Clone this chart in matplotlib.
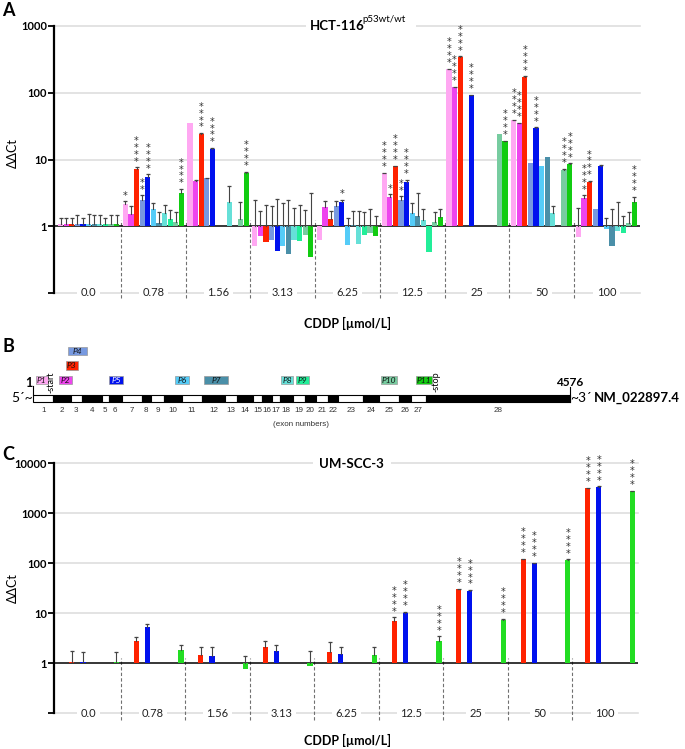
import numpy as np
import matplotlib
matplotlib.use('Agg')
import matplotlib.pyplot as plt
from matplotlib.patches import Rectangle

plt.rcParams['font.family'] = ['Lato', 'Liberation Sans', 'DejaVu Sans']

nan = np.nan
conc_labels = ['0.0', '0.78', '1.56', '3.13', '6.25', '12.5', '25', '50', '100']
probe_names = ['P1', 'P2', 'P3', 'P4', 'P5', 'P6', 'P7', 'P8', 'P9', 'P10', 'P11']
probe_colors = ['#ffa8f2', '#ee44ee', '#ff2200', '#7799e0', '#0011ee', '#55ccf8',
                '#4a8fa8', '#66e0d8', '#22ee99', '#77cca0', '#11cc11']

# HCT-116 p53wt/wt, ddCt per probe over the CDDP concentrations
hct_p1 = [1.08, 2.16, 35, 0.5, 0.63, 6.17, 224, 39, 0.69]
hct_p2 = [1.08, 1.53, 4.84, 0.72, 1.93, 2.75, 120, 34.7, 2.66]
hct_p3 = [1.08, 7.2, 24.3, 0.59, 1.29, 7.94, 347, 174, 4.62]
hct_p4 = [1.08, 2.45, 5.25, 0.63, 2.0, 2.5, nan, 9.0, 1.84]
hct_p5 = [1.08, 5.56, 14.5, 0.43, 2.34, 4.62, 92, 29.9, 8.0]
hct_p6 = [1.08, 1.8, nan, 0.5, 0.52, 1.57, nan, 8.1, 0.91]
hct_p7 = [1.08, 1.12, nan, 0.39, 1.05, 1.41, nan, 11, 0.5]
hct_p8 = [1.08, 1.6, 2.32, 0.62, 0.54, 1.23, nan, 1.6, 0.84]
hct_p9 = [1.08, 1.27, nan, 0.6, 0.73, 0.41, nan, nan, 0.79]
hct_p10 = [1.08, 1.15, 1.27, 0.74, 0.8, 1.17, 24, 7.0, 1.1]
hct_p11 = [1.08, 3.2, 6.24, 0.35, 0.72, 1.36, 18.8, 8.6, 2.32]

# upper end of error bars
hct_p1_err = [1.35, 2.37, nan, 2.5, nan, 6.3, 228, 39.6, 1.9]
hct_p2_err = [1.35, 2.0, 4.92, 1.7, 2.37, 3.0, 122, 35.3, 2.9]
hct_p3_err = [1.35, 7.6, 24.8, 2.1, 1.7, 8.1, 352, 177, 4.75]
hct_p4_err = [1.46, 2.9, 5.3, 2.0, 2.4, 2.8, nan, nan, nan]
hct_p5_err = [1.35, 6.0, 14.8, 2.6, 2.5, 5.0, 93.5, 30.3, 8.2]
hct_p6_err = [1.55, 2.25, nan, 2.2, 1.35, 2.2, nan, nan, 1.35]
hct_p7_err = [1.46, 1.65, nan, 2.5, 1.7, 3.2, nan, nan, 1.84]
hct_p8_err = [1.46, 2.05, 4.0, 1.9, 1.7, 1.84, nan, 2.04, 2.3]
hct_p9_err = [1.35, 1.78, nan, 2.1, 1.66, nan, nan, nan, 1.4]
hct_p10_err = [1.46, 1.62, 2.29, 1.75, 1.8, 1.66, nan, 7.3, 1.66]
hct_p11_err = [1.46, 3.6, 6.6, 3.1, 1.4, 1.8, 19.2, 8.8, 2.75]

# number of significance stars
hct_p1_sig = [0, 1, 0, 0, 0, 4, 4, 4, 0]
hct_p2_sig = [0, 0, 0, 0, 0, 1, 4, 4, 4]
hct_p3_sig = [0, 4, 4, 0, 0, 4, 4, 4, 4]
hct_p4_sig = [0, 2, 0, 0, 0, 2, 0, 0, 0]
hct_p5_sig = [0, 4, 4, 0, 1, 4, 4, 4, 0]
hct_p6_sig = [0] * 9
hct_p7_sig = [0] * 9
hct_p8_sig = [0] * 9
hct_p9_sig = [0] * 9
hct_p10_sig = [0, 0, 0, 0, 0, 0, 0, 4, 0]
hct_p11_sig = [0, 4, 4, 0, 0, 0, 4, 4, 4]

# UM-SCC-3, only P3, P5 and P11
um_p3 = [1.08, 2.75, 1.45, 2.15, 1.68, 7.14, 30.2, 122, 3210]
um_p5 = [1.08, 5.25, 1.38, 1.76, 1.56, 10.2, 28.4, 100, 3415]
um_p11 = [1.08, 1.85, 0.76, 0.88, 1.47, 2.75, 7.24, 118, 2798]
um_p3_err = [1.76, 3.4, 2.15, 2.75, 2.63, 8.3, 31, 124, 3260]
um_p5_err = [1.71, 6.0, 2.15, 2.36, 2.09, 10.6, 29, 101.5, 3460]
um_p11_err = [1.68, 2.36, 1.42, 1.74, 2.09, 3.46, 7.8, 120, 2840]
um_sig = [0, 0, 0, 0, 0, 4, 4, 4, 4]

# transcript NM_022897.4, exon borders (nt)
exon_edges = [1, 171, 322, 414, 584, 646, 755, 925, 1002, 1118, 1266, 1437, 1636,
              1735, 1877, 1953, 2038, 2104, 2212, 2317, 2408, 2511, 2601, 2814,
              2951, 3119, 3221, 3346, 4576]
start_nt = 152
stop_nt = 3432
probe_start = [24, 223, 280, 299, 649, 1209, 1456, 2113, 2238, 2963, 3263]
probe_end = [124, 328, 380, 456, 763, 1331, 1663, 2213, 2354, 3099, 3402]
probe_row = [0, 0, 1, 2, 0, 0, 0, 0, 0, 0, 0]

W, H = 685, 749
PITCH = 0.0866
BARW = 0.08


def fx(px):
    return px / W


def fy(py):
    return 1 - py / H


def bar_x(g, k):
    return g + 0.024 + PITCH * (k + 0.5)


def draw_stars(ax, x, top, n):
    ax.annotate('\n'.join(['*'] * n), (x, top), xytext=(0, 0.5), textcoords='offset points',
                ha='center', va='bottom', fontsize=7, color='#333333', linespacing=0.62,
                family='DejaVu Sans', annotation_clip=False)


def setup_axes(ax, ymax):
    ax.set_yscale('log')
    ax.set_ylim(0.1, ymax)
    ax.set_xlim(-0.035, 9.02)
    for s in ['top', 'right', 'bottom']:
        ax.spines[s].set_visible(False)
    ax.spines['left'].set_linewidth(1.6)
    decades = [10.0 ** e for e in range(-1, int(np.log10(ymax)) + 1)]
    ax.set_yticks(decades)
    ax.set_yticklabels([''] + ['%d' % d for d in decades[1:]], fontweight='bold', fontsize=8)
    ax.minorticks_off()
    ax.tick_params(axis='y', direction='out', length=4, width=1.3, pad=1)
    ax.set_xticks([])
    for d in decades[2:]:
        ax.axhline(d, color='#dedede', lw=1.2, zorder=0, clip_on=False)
    ax.axhline(0.1, color='#dedede', lw=1.2, zorder=0, clip_on=False)
    ax.axhline(1, color='black', lw=1.1, zorder=1.5)
    for g, lab in enumerate(conc_labels):
        ax.text(g + 0.5, 0.1, lab, ha='center', va='center', fontsize=8, color='#222222',
                bbox=dict(facecolor='white', edgecolor='none', pad=2.5), zorder=5)


def draw_bars(ax, vals, errs, sigs, k, color):
    for g in range(len(conc_labels)):
        v = vals[g]
        if np.isnan(v):
            continue
        x = bar_x(g, k)
        ax.bar(x, v - 1, bottom=1, width=BARW, color=color, zorder=2, linewidth=0)
        base = max(v, 1)
        top = base
        if not np.isnan(errs[g]):
            top = errs[g]
            # upper error only, cap at the top end
            ax.plot([x, x], [base, top], color='#444444', lw=0.8, zorder=3)
            ax.plot([x], [top], marker='_', ms=3.4, mew=0.9, color='#444444', zorder=3)
        if sigs[g]:
            draw_stars(ax, x, top, sigs[g])


def separators(ax, y0, y1):
    ax.vlines(np.arange(1, 9), y0, y1, colors='#707070', lw=0.8,
              linestyles=(0, (3, 2)), clip_on=False, zorder=1)


fig = plt.figure(figsize=(W / 100, H / 100), dpi=100)

# ---------- panel A ----------
axA = fig.add_axes([fx(54), fy(293), fx(640 - 54), (293 - 26) / H])
setup_axes(axA, 1000)
hct_vals = [hct_p1, hct_p2, hct_p3, hct_p4, hct_p5, hct_p6, hct_p7, hct_p8, hct_p9, hct_p10, hct_p11]
hct_errs = [hct_p1_err, hct_p2_err, hct_p3_err, hct_p4_err, hct_p5_err, hct_p6_err,
            hct_p7_err, hct_p8_err, hct_p9_err, hct_p10_err, hct_p11_err]
hct_sigs = [hct_p1_sig, hct_p2_sig, hct_p3_sig, hct_p4_sig, hct_p5_sig, hct_p6_sig,
            hct_p7_sig, hct_p8_sig, hct_p9_sig, hct_p10_sig, hct_p11_sig]
for k in range(11):
    draw_bars(axA, hct_vals[k], hct_errs[k], hct_sigs[k], k, probe_colors[k])
separators(axA, 0.084, 1.23)

fig.patches.append(Rectangle((fx(306), fy(34)), fx(110), 16 / H, transform=fig.transFigure,
                             facecolor='white', edgecolor='none', zorder=10))
fig.text(fx(310), fy(26), 'HCT-116', fontsize=9.5, fontweight='bold', ha='left', va='center', zorder=11)
fig.text(fx(362), fy(19), 'p53wt/wt', fontsize=7, ha='left', va='center', zorder=11)
fig.text(fx(347), fy(323), 'CDDP [µmol/L]', fontsize=9, fontweight='bold', ha='center', va='center')
fig.text(fx(13), fy(153), 'ΔΔCt', fontsize=9, rotation=90, ha='center', va='center')
fig.text(fx(2), fy(11), 'A', fontsize=13, fontweight='bold', ha='left', va='center')

# ---------- panel B ----------
axB = fig.add_axes([0, fy(435), 1, 100 / H])
axB.set_xlim(0, W)
axB.set_ylim(435, 335)
axB.axis('off')


def nt_px(nt):
    return 33.3 + (nt - 1) * (570 - 33.3) / (4576 - 1)


for i in range(len(exon_edges) - 1):
    x0, x1 = nt_px(exon_edges[i]), nt_px(exon_edges[i + 1])
    axB.add_patch(Rectangle((x0, 395), x1 - x0, 7, facecolor='white' if i % 2 == 0 else 'black',
                            edgecolor='black', lw=0.8))
    axB.text((x0 + x1) / 2, 410.5, str(i + 1), fontsize=5.8, ha='center', va='center',
             color='#333333', family='Liberation Sans')
axB.text(301, 425, '(exon numbers)', fontsize=5.8, ha='center', va='center',
         color='#333333', family='Liberation Sans')

for k in range(11):
    x0, x1 = nt_px(probe_start[k]), nt_px(probe_end[k])
    y0 = 375.7 - probe_row[k] * 14.5
    axB.add_patch(Rectangle((x0, y0), x1 - x0, 8.7, facecolor=probe_colors[k],
                            edgecolor='#999999', lw=0.5))
    axB.text((x0 + x1) / 2, y0 + 4.6, probe_names[k], fontsize=6, style='italic',
             ha='center', va='center', color='white' if k == 4 else '#111111')

axB.plot([nt_px(1)] * 2, [386, 395], color='black', lw=0.8)
axB.plot([nt_px(4576)] * 2, [387, 402], color='black', lw=0.8)
axB.text(nt_px(1) - 0.5, 383, '1', fontsize=9, fontweight='bold', ha='right', va='center')
axB.text(nt_px(4576), 382, '4576', fontsize=8.5, fontweight='bold', ha='center', va='center')
axB.text(nt_px(start_nt), 393, '-start', fontsize=6.5, rotation=90, ha='center', va='bottom')
axB.text(nt_px(stop_nt), 392, '-stop', fontsize=6.5, rotation=90, ha='center', va='bottom')
axB.text(nt_px(1), 398, '5´~', fontsize=10, ha='right', va='center')
axB.text(nt_px(4576) + 0.5, 398, '~3´', fontsize=10, ha='left', va='center')
axB.text(594, 398, 'NM_022897.4', fontsize=9.5, fontweight='bold', ha='left', va='center')
fig.text(fx(2), fy(346), 'B', fontsize=13, fontweight='bold', ha='left', va='center')

# ---------- panel C ----------
axC = fig.add_axes([fx(54), fy(713.3), fx(638 - 54), (713.3 - 463.3) / H])
setup_axes(axC, 10000)
draw_bars(axC, um_p3, um_p3_err, um_sig, 2, probe_colors[2])
draw_bars(axC, um_p5, um_p5_err, um_sig, 4, probe_colors[4])
draw_bars(axC, um_p11, um_p11_err, um_sig, 10, '#22dd22')
separators(axC, 0.073, 1.26)

fig.patches.append(Rectangle((fx(313), fy(471)), fx(78), 16 / H, transform=fig.transFigure,
                             facecolor='white', edgecolor='none', zorder=10))
fig.text(fx(351), fy(463.5), 'UM-SCC-3', fontsize=9.5, fontweight='bold', ha='center', va='center', zorder=11)
fig.text(fx(347), fy(740), 'CDDP [µmol/L]', fontsize=9, fontweight='bold', ha='center', va='center')
fig.text(fx(13), fy(588), 'ΔΔCt', fontsize=9, rotation=90, ha='center', va='center')
fig.text(fx(2), fy(455), 'C', fontsize=13, fontweight='bold', ha='left', va='center')

fig.savefig('out.png', dpi=100)
